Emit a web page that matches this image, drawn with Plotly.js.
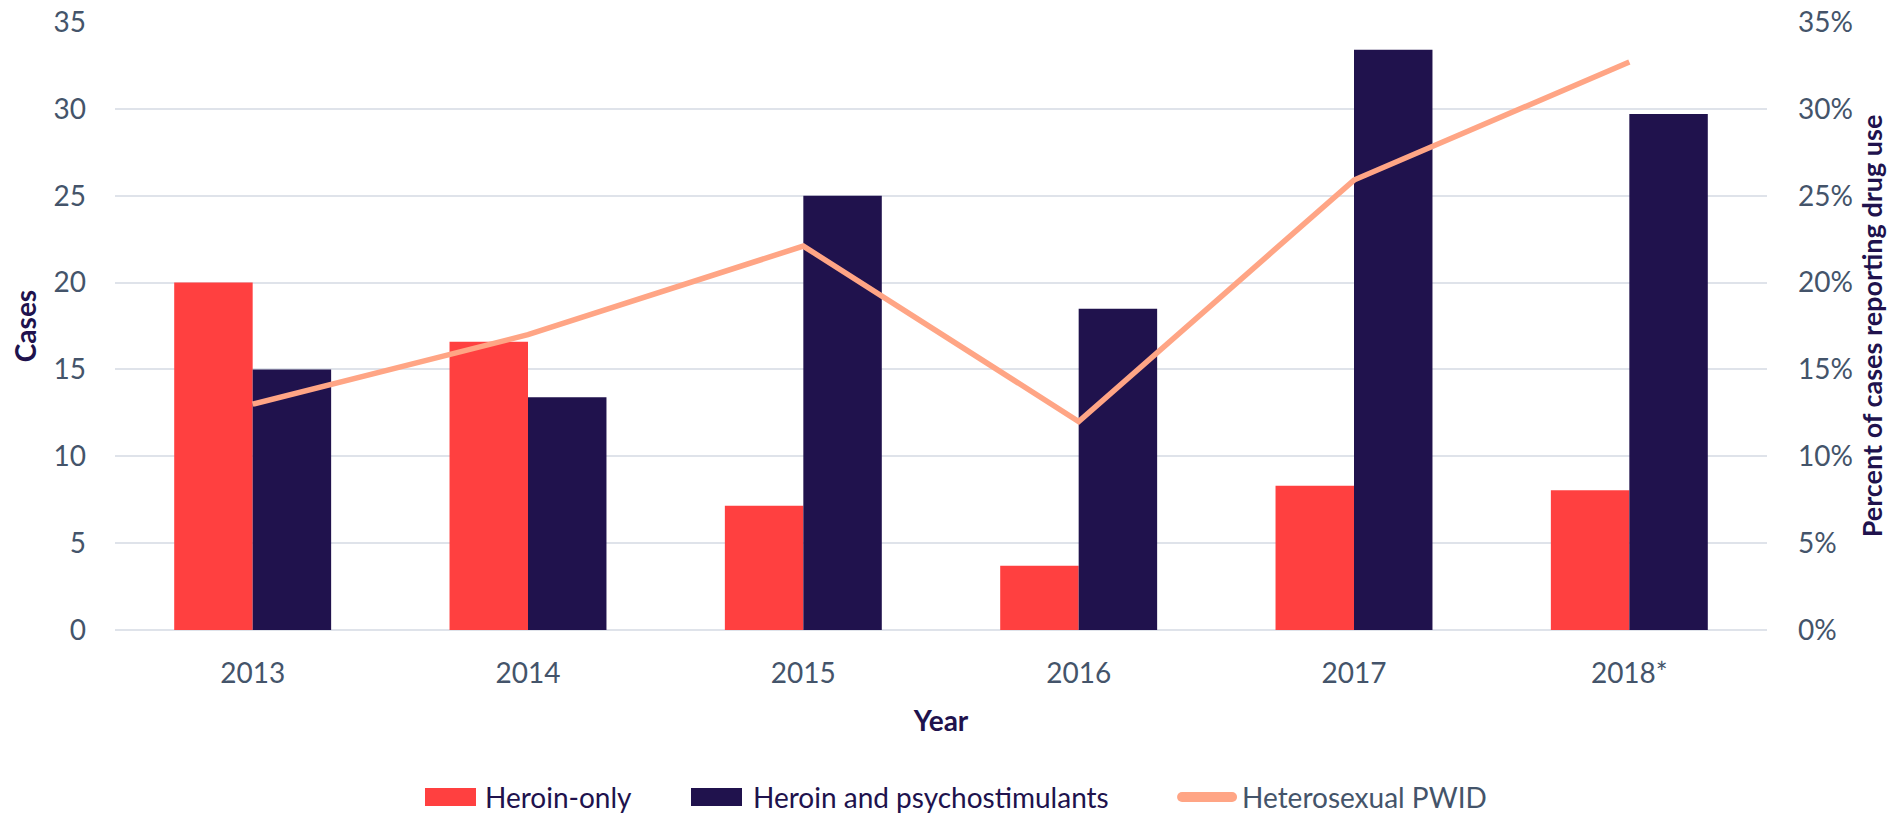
<!DOCTYPE html>
<html>
<head>
<meta charset="utf-8">
<script src="https://cdn.plot.ly/plotly-3.0.1.min.js"></script>
<style>html,body{margin:0;padding:0;background:#fff;}#chart{width:1900px;height:814px;}</style>
</head>
<body>
<div id="chart"></div>
<script>
const years = ["2013", "2014", "2015", "2016", "2017", "2018*"];
const heroinOnly = [20, 16.6, 7.15, 3.7, 8.3, 8.05];
const heroinPsycho = [15, 13.4, 25, 18.5, 33.4, 29.7];
const heteroPWID = [0.13, 0.17, 0.221, 0.12, 0.259, 0.327];
const seriesNames = ["Heroin-only", "Heroin and psychostimulants", "Heterosexual PWID"];
const seriesColors = ["#ff4040", "#20124d", "#ffa585"];
const leftTicks = [0, 5, 10, 15, 20, 25, 30, 35];
const rightTicks = [0, 0.05, 0.10, 0.15, 0.20, 0.25, 0.30, 0.35];

const NAVY = "#20124d";
const TICK = "#44546a";
const FONT = "Lato, 'Open Sans', sans-serif";

const traces = [
  {type: "bar", name: seriesNames[0], x: years, y: heroinOnly,
   marker: {color: seriesColors[0]}, showlegend: false},
  {type: "bar", name: seriesNames[1], x: years, y: heroinPsycho,
   marker: {color: seriesColors[1]}, showlegend: false},
  {type: "scatter", mode: "lines", name: seriesNames[2],
   x: years, y: heteroPWID, yaxis: "y2", showlegend: false,
   line: {color: seriesColors[2], width: 5.5}}
];

// Legend (drawn as layout decorations, paper coordinates)
const legY = -0.2747;
const legShapes = [
  {type: "rect", xref: "paper", yref: "paper", x0: 0.18765, x1: 0.21852, y0: -0.2895, y1: -0.2599,
   fillcolor: seriesColors[0], line: {width: 0}},
  {type: "rect", xref: "paper", yref: "paper", x0: 0.34867, x1: 0.37954, y0: -0.2895, y1: -0.2599,
   fillcolor: seriesColors[1], line: {width: 0}},
  {type: "line", xref: "paper", yref: "paper", x0: 0.6459, x1: 0.6762, y0: legY, y1: legY,
   line: {color: seriesColors[2], width: 10}}
];
const legTextX = [0.2228, 0.3850, 0.6810];
const legTextColor = [NAVY, NAVY, TICK];
const legAnn = seriesNames.map((n, i) => ({
  text: n, xref: "paper", yref: "paper", x: legTextX[i], y: legY, xanchor: "left", yanchor: "middle",
  showarrow: false, font: {family: FONT, size: 28, color: legTextColor[i]}
}));
// rounded caps for legend line
legShapes.push({type: "circle", xref: "paper", yref: "paper", x0: 0.6429, x1: 0.6489, y0: legY - 0.00822, y1: legY + 0.00822,
  fillcolor: seriesColors[2], line: {width: 0}});
legShapes.push({type: "circle", xref: "paper", yref: "paper", x0: 0.6732, x1: 0.6792, y0: legY - 0.00822, y1: legY + 0.00822,
  fillcolor: seriesColors[2], line: {width: 0}});

const layout = {
  width: 1900, height: 814,
  margin: {l: 115, r: 133, t: 22, b: 184},
  paper_bgcolor: "#ffffff", plot_bgcolor: "#ffffff",
  font: {family: FONT, size: 28, color: TICK},
  barmode: "group", bargap: 0.43, bargroupgap: 0,
  showlegend: false,
  shapes: legShapes,
  annotations: legAnn,
  xaxis: {type: "category", tickfont: {family: FONT, size: 28, color: TICK},
          ticks: "", ticklabelstandoff: 24, showline: false, showgrid: false,
          title: {text: "Year", font: {family: FONT, size: 28, color: NAVY, weight: "bold"}, standoff: 23},
          automargin: false},
  yaxis: {range: [0, 35], tickvals: leftTicks, ticks: "", ticklabelstandoff: 28,
          tickfont: {family: FONT, size: 28, color: TICK},
          showgrid: true, gridcolor: "#dfe3ea", gridwidth: 2,
          zeroline: true, zerolinecolor: "#dfe3ea", zerolinewidth: 2, showline: false,
          title: {text: "Cases", font: {family: FONT, size: 28, color: NAVY, weight: "bold"}, standoff: 8},
          automargin: false},
  yaxis2: {range: [0, 0.35], tickvals: rightTicks, tickformat: ".0%", overlaying: "y", side: "right",
           ticks: "", ticklabelstandoff: 30, showgrid: false, zeroline: false, showline: false,
           tickfont: {family: FONT, size: 28, color: TICK},
           title: {text: "Percent of cases reporting drug use", font: {family: FONT, size: 27, color: NAVY, weight: "bold"}, standoff: 11},
           automargin: false}
};

Plotly.newPlot("chart", traces, layout, {displayModeBar: false, responsive: false});
</script>
</body>
</html>
